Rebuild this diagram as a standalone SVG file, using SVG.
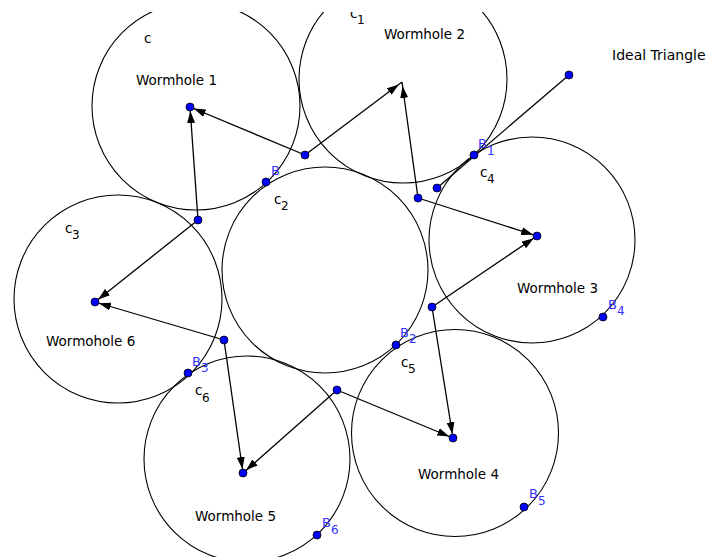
<svg xmlns="http://www.w3.org/2000/svg" width="708" height="557" viewBox="0 0 708 557">
<defs>
<style>
.c{fill:none;stroke:#000;stroke-width:1.1}
.e{fill:none;stroke:#000;stroke-width:1.3}
.p{fill:#0000ff;stroke:#000;stroke-width:0.8}
text{font-family:"DejaVu Sans","Liberation Sans",sans-serif;fill:#000}
.lb{font-size:13.5px}
.cl{font-size:13.5px}
.sub{font-size:12px}
.bl{fill:#3333ff;font-size:13px}
.bs{fill:#3333ff;font-size:12px}
</style>
<marker id="ah" viewBox="0 0 16 8" refX="16" refY="4" markerWidth="16" markerHeight="8" markerUnits="userSpaceOnUse" orient="auto">
<path d="M0,0 L12,4 L0,8 z" fill="#000"/>
</marker>
<clipPath id="clip"><rect x="0" y="12" width="708" height="545"/></clipPath>
</defs>
<rect width="708" height="557" fill="#fff"/>
<g clip-path="url(#clip)">
<g id="wormhole1">
<circle class="c" cx="196" cy="106" r="104"/>
<text class="cl" x="144" y="43">c</text>
<text class="lb" x="136" y="85">Wormhole 1</text>
</g>
<g id="wormhole2">
<circle class="c" cx="403" cy="79" r="104"/>
<text class="cl" x="350" y="18">c</text><text class="sub" x="357" y="24">1</text>
<text class="lb" x="384" y="39">Wormhole 2</text>
</g>
<g id="center-circle">
<circle class="c" cx="325" cy="270" r="103"/>
<text class="cl" x="274" y="204">c</text><text class="sub" x="281" y="210">2</text>
</g>
<g id="wormhole3">
<circle class="c" cx="532" cy="240" r="103"/>
<text class="cl" x="480" y="177">c</text><text class="sub" x="487" y="183">4</text>
<text class="lb" x="517" y="293">Wormhole 3</text>
</g>
<g id="wormhole4">
<circle class="c" cx="455" cy="433" r="103.5"/>
<text class="cl" x="401" y="367">c</text><text class="sub" x="408" y="373">5</text>
<text class="lb" x="418" y="479">Wormhole 4</text>
</g>
<g id="wormhole5">
<circle class="c" cx="247" cy="459" r="103"/>
<text class="cl" x="195" y="395">c</text><text class="sub" x="202" y="402">6</text>
<text class="lb" x="195" y="521">Wormhole 5</text>
</g>
<g id="wormhole6">
<circle class="c" cx="118" cy="299" r="104"/>
<text class="cl" x="65" y="233">c</text><text class="sub" x="72" y="239">3</text>
<text class="lb" x="46" y="346">Wormohole 6</text>
</g>
<g id="ideal-triangle-label">
<text style="font-size:14px" x="612" y="60">Ideal Triangle</text>
</g>
<g id="connectors">
<line class="e" x1="305" y1="155" x2="190" y2="107" marker-end="url(#ah)"/>
<line class="e" x1="305" y1="155" x2="402" y2="82" marker-end="url(#ah)"/>
<line class="e" x1="198" y1="220" x2="190" y2="107" marker-end="url(#ah)"/>
<line class="e" x1="198" y1="220" x2="95" y2="302" marker-end="url(#ah)"/>
<line class="e" x1="418" y1="198" x2="402" y2="82" marker-end="url(#ah)"/>
<line class="e" x1="418" y1="198" x2="537" y2="236" marker-end="url(#ah)"/>
<line class="e" x1="432" y1="307" x2="537" y2="236" marker-end="url(#ah)"/>
<line class="e" x1="432" y1="307" x2="453" y2="438" marker-end="url(#ah)"/>
<line class="e" x1="224" y1="340" x2="95" y2="302" marker-end="url(#ah)"/>
<line class="e" x1="224" y1="340" x2="243" y2="473" marker-end="url(#ah)"/>
<line class="e" x1="337" y1="390" x2="243" y2="473" marker-end="url(#ah)"/>
<line class="e" x1="337" y1="390" x2="453" y2="438" marker-end="url(#ah)"/>
<line class="e" x1="437" y1="188" x2="569" y2="75"/>
</g>
<g id="points">
<circle class="p" cx="190" cy="107" r="4"/>
<circle class="p" cx="537" cy="236" r="4"/>
<circle class="p" cx="453" cy="438" r="4"/>
<circle class="p" cx="243" cy="473" r="4"/>
<circle class="p" cx="95" cy="302" r="4"/>
<circle class="p" cx="305" cy="155" r="4"/>
<circle class="p" cx="198" cy="220" r="4"/>
<circle class="p" cx="418" cy="198" r="4"/>
<circle class="p" cx="437" cy="188" r="4"/>
<circle class="p" cx="569" cy="75" r="4"/>
<circle class="p" cx="432" cy="307" r="4"/>
<circle class="p" cx="224" cy="340" r="4"/>
<circle class="p" cx="337" cy="390" r="4"/>
</g>
<g id="B">
<circle class="p" cx="266" cy="182" r="4"/>
<text class="bl" x="271" y="175">B</text>
</g>
<g id="B1">
<circle class="p" cx="474" cy="155" r="4"/>
<text class="bl" x="478" y="148">B</text><text class="bs" x="487" y="155">1</text>
</g>
<g id="B2">
<circle class="p" cx="396" cy="345" r="4"/>
<text class="bl" x="400" y="337">B</text><text class="bs" x="409" y="343">2</text>
</g>
<g id="B3">
<circle class="p" cx="188" cy="373" r="4"/>
<text class="bl" x="192" y="366">B</text><text class="bs" x="201" y="372">3</text>
</g>
<g id="B4">
<circle class="p" cx="603" cy="317" r="4"/>
<text class="bl" x="608" y="309">B</text><text class="bs" x="617" y="315">4</text>
</g>
<g id="B5">
<circle class="p" cx="524" cy="507" r="4"/>
<text class="bl" x="529" y="498">B</text><text class="bs" x="538" y="505">5</text>
</g>
<g id="B6">
<circle class="p" cx="317" cy="535" r="4"/>
<text class="bl" x="322" y="527">B</text><text class="bs" x="331" y="534">6</text>
</g>
</g>
</svg>
